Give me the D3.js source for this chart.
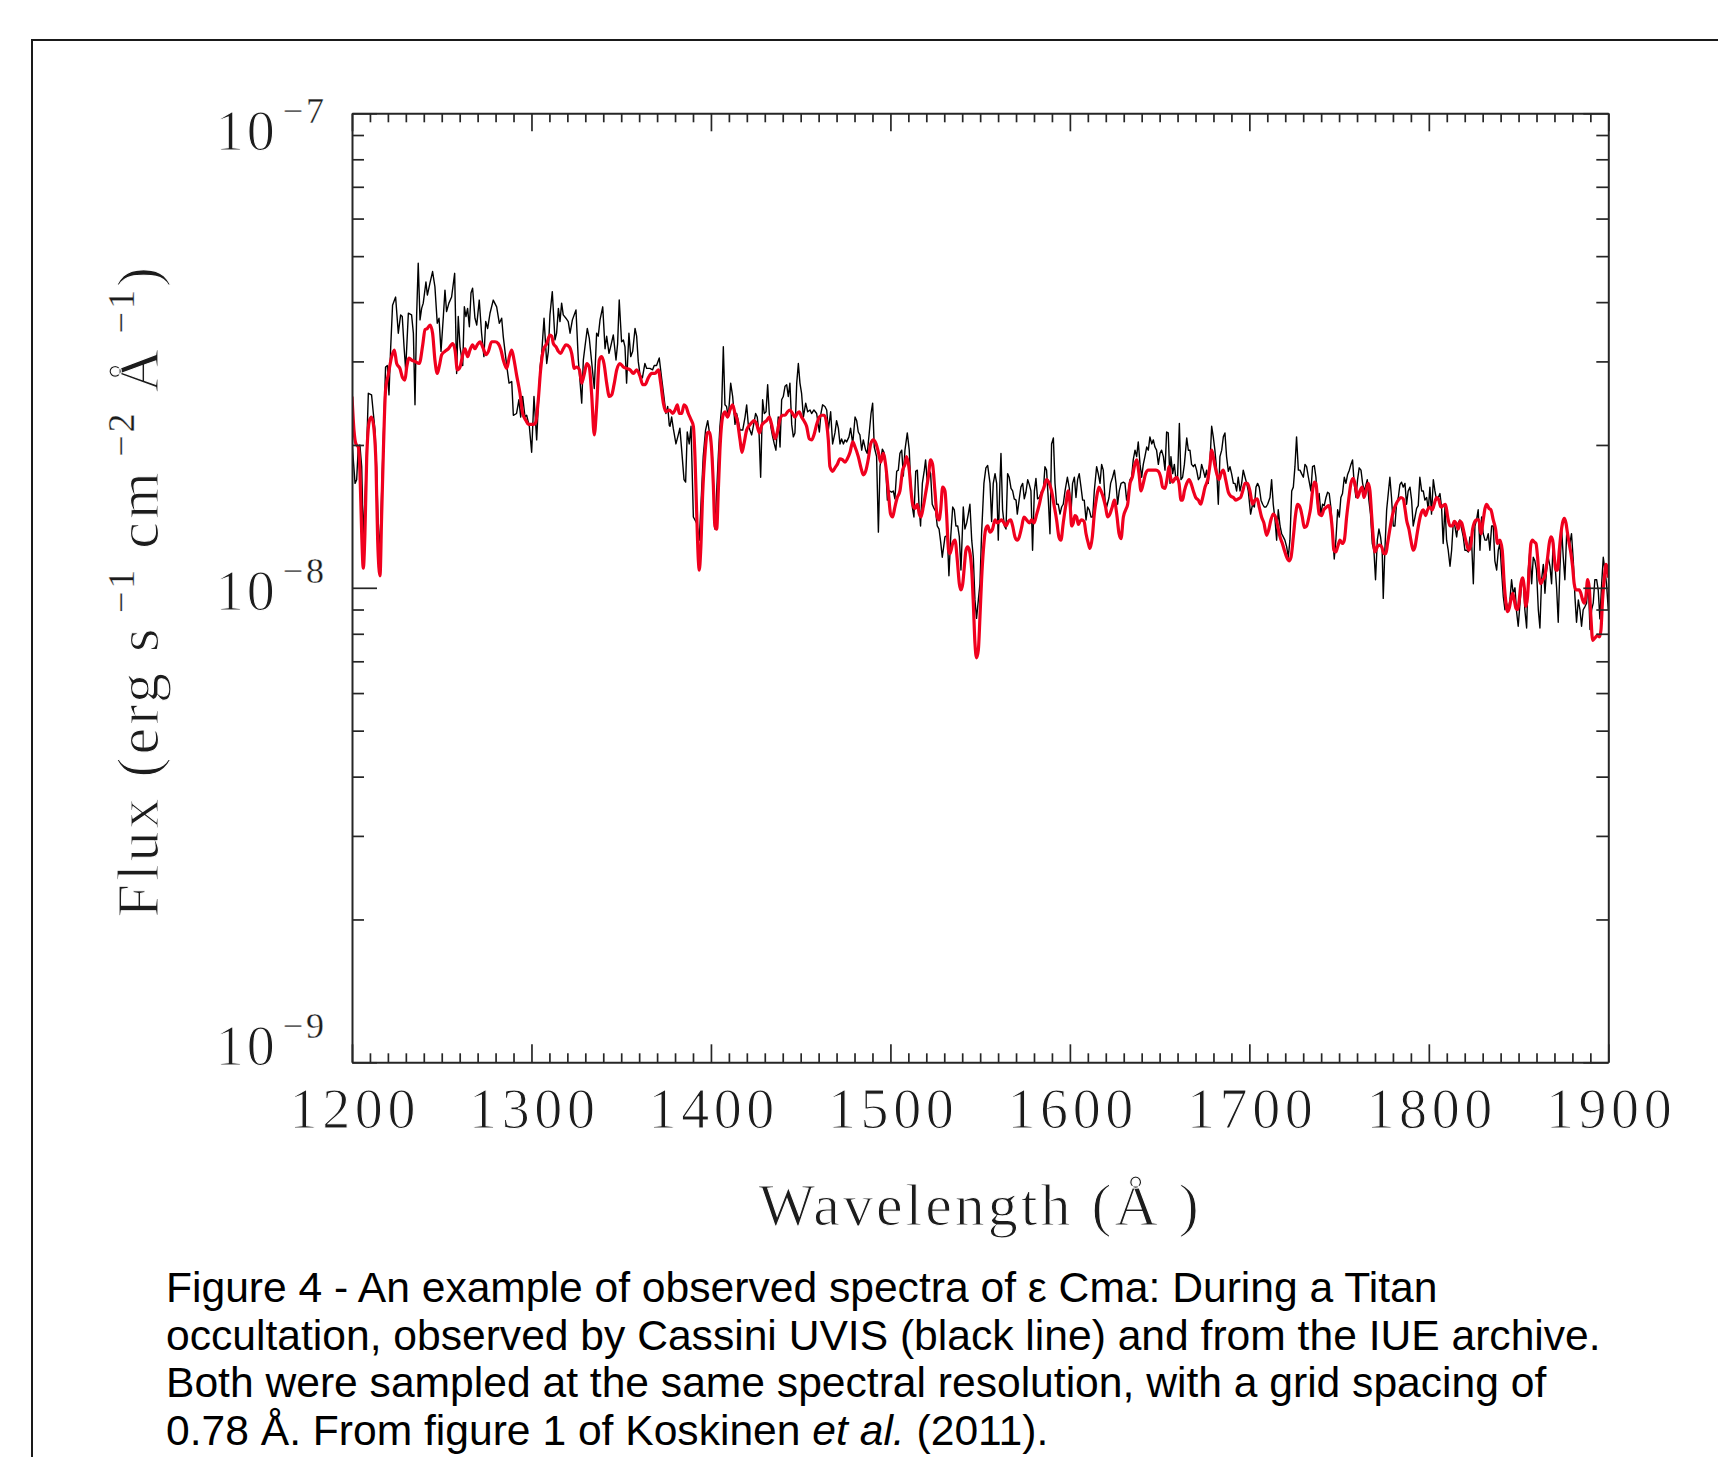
<!DOCTYPE html>
<html>
<head>
<meta charset="utf-8">
<script src="https://cdn.jsdelivr.net/npm/d3@7"></script>
<style>
  html, body { margin: 0; padding: 0; background: #fff; }
  svg { display: block; }
  .thin { stroke: #fff; stroke-width: 1.1px; }
  .thin .sup { stroke-width: 0.3px; }
</style>
</head>
<body>
<svg id="fig" width="1718" height="1457"></svg>
<script>
// Flux values below are in units of 1e-8 erg s^-1 cm^-2 Å^-1; wavelengths in Å.
const FLUX_UNIT = 1e-8;

// Cassini UVIS occultation spectrum of ε CMa: [wavelength, flux]
const cassini = [
  [1200.0,2.03],[1201.7,1.66],[1202.6,1.69],[1203.5,1.98],[1204.4,2.00],[1205.4,1.80],[1206.3,1.28],[1207.6,1.66],
  [1209.1,2.57],[1210.9,2.55],[1211.9,2.33],[1212.8,2.15],[1213.7,1.80],[1214.9,1.20],[1216.0,1.37],[1217.5,2.09],
  [1218.7,2.92],[1219.7,2.94],[1220.6,2.55],[1221.5,3.17],[1222.6,3.94],[1224.3,4.10],[1225.8,3.44],[1227.1,3.76],
  [1228.0,3.73],[1229.0,3.22],[1229.9,2.88],[1231.4,3.79],[1233.2,3.76],[1234.2,3.44],[1235.1,2.43],[1236.0,3.73],
  [1236.9,4.83],[1237.9,3.67],[1238.8,3.88],[1239.7,3.98],[1241.2,4.41],[1242.0,4.14],[1243.4,4.38],[1244.9,4.64],
  [1246.2,4.31],[1247.5,3.61],[1248.5,3.70],[1249.6,3.15],[1250.9,3.73],[1251.8,4.24],[1252.7,3.82],[1254.0,3.98],
  [1255.5,4.10],[1257.2,4.60],[1258.3,2.83],[1259.2,3.73],[1260.2,3.22],[1261.7,2.94],[1262.6,3.91],[1263.5,3.73],
  [1264.4,3.88],[1265.4,3.55],[1266.3,4.18],[1267.2,4.28],[1268.5,3.70],[1269.5,3.58],[1270.9,4.04],[1272.2,3.44],
  [1273.5,3.07],[1274.5,3.64],[1275.6,3.52],[1276.9,3.79],[1278.7,4.04],[1280.6,3.91],[1282.1,3.61],[1283.4,3.70],
  [1284.3,3.38],[1286.2,2.94],[1287.5,2.70],[1289.0,2.72],[1289.9,2.31],[1291.7,2.33],[1293.0,2.49],[1294.0,2.29],
  [1295.1,2.53],[1296.4,2.29],[1297.3,2.31],[1298.8,2.19],[1300.1,1.93],[1301.4,2.53],[1302.9,2.05],[1304.8,2.92],
  [1305.7,3.12],[1307.0,3.70],[1308.5,2.97],[1309.4,3.15],[1310.3,3.76],[1311.6,4.21],[1313.1,3.33],[1314.0,3.44],
  [1315.0,3.88],[1315.9,3.64],[1316.8,3.98],[1317.7,3.76],[1319.2,3.70],[1320.5,3.64],[1321.5,3.44],[1322.8,3.67],
  [1324.8,3.85],[1326.1,3.02],[1327.0,2.74],[1328.0,2.45],[1328.9,3.02],[1329.8,3.22],[1331.1,3.52],[1332.2,3.36],
  [1333.5,3.00],[1335.0,2.63],[1336.3,3.44],[1337.2,3.39],[1338.2,3.67],[1339.7,3.91],[1341.0,3.19],[1341.9,3.39],
  [1343.2,3.12],[1344.1,3.22],[1345.6,3.41],[1347.1,3.02],[1348.0,3.27],[1348.9,4.04],[1350.2,3.30],[1351.2,3.33],
  [1352.1,3.22],[1353.0,2.70],[1354.3,3.44],[1355.3,3.07],[1356.4,3.15],[1357.7,3.52],[1358.6,3.39],[1359.5,3.00],
  [1360.5,2.81],[1361.8,2.77],[1363.2,2.97],[1364.2,2.90],[1366.0,2.90],[1367.5,2.88],[1368.4,2.94],[1369.7,2.94],
  [1371.2,3.05],[1372.5,2.77],[1373.8,2.53],[1374.9,2.33],[1375.9,2.41],[1376.8,2.20],
  [1377.2,2.19],[1378.1,2.29],[1379.0,2.17],[1380.5,2.01],[1381.8,2.10],[1382.7,2.17],[1383.7,1.95],[1385.0,1.69],
  [1385.9,1.67],[1386.8,2.13],[1387.9,2.01],[1388.9,2.19],[1390.2,1.41],[1392.0,1.37],[1393.5,1.26],[1395.7,1.89],
  [1397.0,2.15],[1398.2,2.25],[1399.5,2.08],[1400.8,1.89],[1402.2,1.33],[1404.1,1.89],[1405.0,2.19],[1406.0,2.41],
  [1406.9,3.22],[1407.8,2.43],[1408.7,2.41],[1409.7,2.29],[1411.0,2.70],[1412.1,2.53],[1413.4,2.21],[1414.3,2.33],
  [1415.2,2.25],[1416.2,2.15],[1417.7,2.15],[1419.0,2.29],[1419.9,2.43],[1420.8,2.21],[1421.7,2.15],[1422.7,2.10],
  [1423.6,2.19],[1424.9,2.33],[1425.8,2.29],[1426.8,2.12],[1427.7,1.71],[1428.8,2.49],[1429.7,2.33],[1430.7,2.35],
  [1431.6,2.68],[1432.5,2.33],[1433.5,2.17],[1434.4,2.08],[1435.3,2.01],[1436.2,1.95],[1437.5,2.29],[1438.5,1.98],
  [1439.4,2.49],[1440.3,2.53],[1441.3,2.66],[1442.2,2.68],[1443.1,2.53],[1444.0,2.70],[1445.0,2.21],[1445.9,2.08],
  [1446.8,2.12],[1447.8,2.70],[1448.7,2.97],[1449.6,2.70],[1450.5,2.57],[1451.5,2.29],[1452.8,2.45],[1453.9,2.35],
  [1455.2,2.37],[1456.1,2.33],[1457.4,2.37],[1458.9,2.33],[1460.4,2.13],[1461.3,2.33],[1462.2,2.43],[1463.5,2.41],
  [1464.5,2.37],[1465.4,2.15],[1466.7,2.35],[1467.8,2.01],[1469.1,2.12],[1470.0,2.25],[1471.0,2.17],[1471.9,2.01],
  [1472.8,2.06],[1473.8,2.01],[1474.7,2.05],[1475.6,2.03],[1476.9,2.08],[1477.8,2.17],[1479.0,2.01],[1480.3,2.29],
  [1481.2,2.25],[1482.1,2.13],[1483.0,2.10],[1484.0,1.95],[1484.9,2.05],[1486.2,1.95],[1487.1,1.92],[1488.2,2.12],
  [1489.2,2.33],[1490.1,2.45],[1491.0,1.98],[1492.3,1.89],[1493.3,1.31],[1494.2,1.80],[1495.5,1.96],[1496.4,1.93],
  [1497.3,1.82],[1498.3,1.53],[1499.4,1.60],[1500.7,1.59],[1501.6,1.60],[1502.5,1.54],[1503.5,1.76],[1504.4,1.77],
  [1505.3,1.92],[1506.3,1.95],[1507.2,1.72],[1508.1,1.95],[1509.4,2.12],[1510.5,1.95],[1511.3,1.66],[1512.2,1.48],
  [1513.1,1.41],[1514.1,1.76],[1515.0,1.77],[1515.9,1.50],[1516.8,1.35],[1517.8,1.66],[1518.9,1.77],[1519.6,1.86],
  [1520.6,1.66],[1521.5,1.77],[1522.4,1.74],[1523.3,1.50],[1524.3,1.47],[1525.2,1.45],[1526.1,1.35],[1527.1,1.33],
  [1528.0,1.25],[1528.9,1.16],[1530.4,1.28],[1531.7,1.29],[1532.6,1.06],[1533.6,1.28],[1534.7,1.48],[1535.6,1.46],
  [1536.5,1.35],[1537.5,1.35],[1538.4,1.28],[1539.3,1.09],[1540.6,1.48],[1541.5,1.33],[1542.5,1.37],[1543.4,1.43],
  [1544.3,1.50],[1545.3,1.26],[1546.2,1.16],[1547.1,0.943],[1548.0,0.862],[1549.0,0.943],[1549.9,1.02],[1550.8,1.30],
  [1552.1,1.66],[1553.2,1.79],[1554.2,1.81],[1555.5,1.66],
  [1556.4,1.38],[1557.3,1.66],[1558.3,1.74],[1559.2,1.66],[1560.1,1.26],[1561.0,1.66],[1561.6,1.92],[1562.5,1.46],
  [1563.5,1.35],[1564.4,1.33],[1565.3,1.74],[1566.2,1.71],[1567.2,1.62],[1568.1,1.60],[1569.0,1.54],[1570.0,1.53],
  [1570.7,1.43],[1571.8,1.54],[1572.7,1.63],[1573.7,1.66],[1574.6,1.54],[1575.5,1.59],[1576.5,1.69],[1577.4,1.65],
  [1578.3,1.60],[1579.2,1.20],[1580.2,1.60],[1581.1,1.70],[1582.0,1.54],[1583.0,1.55],[1584.3,1.60],[1585.2,1.60],
  [1586.1,1.80],[1587.0,1.77],[1588.0,1.53],[1588.9,1.30],[1589.8,2.01],[1590.8,2.07],[1591.7,1.66],[1592.6,1.50],
  [1593.5,1.50],[1594.5,1.43],[1595.4,1.48],[1596.3,1.50],[1597.3,1.60],[1598.6,1.71],[1599.7,1.62],[1600.6,1.43],
  [1601.5,1.66],[1602.5,1.71],[1603.4,1.55],[1604.3,1.69],[1605.2,1.74],[1606.2,1.63],[1607.1,1.53],[1608.0,1.53],
  [1609.0,1.39],[1609.9,1.48],[1610.8,1.46],[1611.8,1.41],[1612.7,1.41],[1613.6,1.60],[1614.9,1.80],[1615.8,1.74],
  [1616.8,1.66],[1617.7,1.82],[1618.6,1.77],[1619.6,1.53],[1620.5,1.48],[1621.8,1.55],[1622.7,1.66],[1623.8,1.71],
  [1624.8,1.77],[1625.7,1.66],[1626.6,1.50],[1627.5,1.60],[1628.5,1.66],[1629.8,1.67],[1630.7,1.66],[1631.6,1.53],
  [1632.6,1.60],[1633.5,1.69],[1634.4,1.71],[1635.3,1.86],[1636.3,1.95],[1637.2,1.89],[1638.1,2.03],[1639.1,1.82],
  [1640.0,1.71],[1640.9,1.82],[1641.8,1.89],[1642.8,1.98],[1643.7,1.95],[1644.6,2.08],[1645.6,2.01],[1646.5,2.05],
  [1647.4,1.98],[1648.3,1.95],[1649.3,1.82],[1650.2,1.92],[1651.1,1.95],[1652.1,1.89],[1653.0,1.77],[1653.9,2.13],
  [1654.8,2.12],[1655.8,1.66],[1656.3,1.89],[1657.3,1.74],[1658.2,1.82],[1659.1,1.69],[1660.0,1.71],[1661.0,2.22],
  [1661.9,1.69],[1662.8,1.71],[1663.8,1.82],[1665.1,2.07],[1666.0,1.95],[1666.9,1.95],[1667.8,1.82],[1668.8,1.80],
  [1669.7,1.82],[1670.6,1.77],[1671.6,1.69],[1672.5,1.71],[1673.4,1.82],[1674.3,1.77],[1675.3,1.71],[1676.2,1.77],
  [1677.1,1.66],[1678.1,1.86],[1679.0,2.19],[1679.9,2.08],[1680.8,1.95],[1681.8,1.77],[1682.7,1.50],[1683.6,1.89],
  [1684.6,1.95],[1685.5,2.08],[1686.4,2.12],[1687.3,1.89],[1688.3,1.76],[1689.2,1.80],[1690.1,1.74],[1691.1,1.66],
  [1692.0,1.66],[1692.9,1.60],[1693.8,1.71],[1694.8,1.60],[1695.7,1.66],[1696.6,1.77],[1697.6,1.71],[1698.5,1.66],
  [1699.4,1.60],[1700.7,1.43],[1701.8,1.50],[1702.8,1.48],[1703.7,1.63],[1704.6,1.66],[1705.5,1.63],[1706.5,1.53],
  [1707.4,1.50],[1708.3,1.48],[1709.3,1.48],[1710.2,1.50],[1711.5,1.55],[1712.4,1.69],[1713.3,1.50],[1714.3,1.39],
  [1715.2,1.26],[1716.1,1.46],[1717.1,1.35],[1718.0,1.30],[1718.9,1.28],[1719.8,1.26],[1720.8,1.22],[1721.7,1.16],
  [1722.6,1.26],[1723.6,1.60],[1724.5,1.63],[1725.4,1.80],[1726.3,2.08],[1727.3,1.77],[1728.2,1.77],[1729.1,1.74],
  [1730.1,1.71],[1731.0,1.82],[1731.9,1.80],[1732.9,1.71],
  [1734.3,1.60],[1735.2,1.80],[1736.2,1.81],[1737.1,1.71],[1738.0,1.50],[1738.9,1.58],[1739.9,1.43],[1740.8,1.50],
  [1741.7,1.49],[1742.7,1.55],[1743.6,1.59],[1744.5,1.58],[1745.4,1.48],[1746.4,1.30],[1747.3,1.15],[1748.2,1.26],
  [1749.2,1.46],[1750.1,1.41],[1751.0,1.55],[1751.9,1.58],[1752.9,1.71],[1753.8,1.66],[1754.7,1.73],[1755.7,1.77],
  [1756.6,1.82],[1757.5,1.86],[1758.4,1.66],[1759.4,1.55],[1760.3,1.69],[1761.2,1.79],[1762.2,1.77],[1763.1,1.66],
  [1764.0,1.60],[1765.0,1.65],[1765.7,1.69],[1766.6,1.53],[1767.5,1.43],[1768.5,1.24],[1769.4,1.20],[1770.3,1.04],
  [1771.3,1.26],[1772.2,1.33],[1773.1,1.28],[1774.0,1.20],[1774.6,0.950],[1775.5,1.20],[1776.5,1.46],[1777.4,1.58],
  [1778.3,1.71],[1779.2,1.55],[1780.2,1.35],[1781.1,1.35],[1782.0,1.50],[1783.0,1.55],[1783.9,1.65],[1784.8,1.67],
  [1785.7,1.63],[1786.7,1.66],[1787.6,1.50],[1788.5,1.60],[1789.5,1.63],[1790.4,1.53],[1791.3,1.35],[1792.3,1.41],
  [1793.2,1.47],[1794.1,1.49],[1795.0,1.71],[1796.0,1.60],[1796.9,1.60],[1797.8,1.53],[1798.8,1.55],[1799.7,1.46],
  [1800.6,1.63],[1801.5,1.43],[1802.5,1.69],[1803.4,1.60],[1804.3,1.53],[1805.3,1.55],[1806.2,1.58],[1807.1,1.48],
  [1808.0,1.24],[1809.0,1.48],[1809.9,1.26],[1810.8,1.20],[1811.8,1.11],[1812.7,1.20],[1813.6,1.37],[1814.5,1.35],
  [1815.5,1.28],[1816.4,1.37],[1817.3,1.39],[1818.3,1.33],[1819.2,1.28],[1820.1,1.20],[1821.0,1.20],[1822.0,1.19],
  [1822.9,1.28],[1823.8,1.26],[1824.8,1.02],[1825.7,1.35],[1826.6,1.39],[1827.5,1.46],[1828.5,1.20],[1829.4,1.41],
  [1830.3,1.30],[1831.3,1.26],[1832.2,1.26],[1833.1,1.30],[1834.0,1.20],[1835.0,1.35],[1835.9,1.35],[1836.8,1.14],
  [1837.8,1.09],[1838.7,1.20],[1839.6,1.24],[1840.5,1.09],[1841.5,0.958],[1842.4,0.899],[1843.3,0.928],[1844.3,0.899],
  [1845.2,0.943],[1846.1,1.04],[1847.0,0.974],[1848.0,1.00],[1848.9,0.890],[1849.8,0.830],[1850.8,0.928],[1851.7,1.02],
  [1852.6,1.04],[1853.5,0.899],[1854.5,0.823],[1855.4,1.09],[1856.3,1.20],[1857.3,1.02],[1858.2,1.16],[1859.1,1.14],
  [1860.0,1.09],[1861.0,0.899],[1861.9,0.823],[1862.8,1.04],[1863.8,1.12],[1864.7,0.974],[1865.6,1.09],[1866.5,1.16],
  [1867.5,1.11],[1868.4,1.02],[1869.3,1.26],[1870.3,1.12],[1871.2,1.00],[1872.1,0.846],[1873.0,1.09],[1874.0,1.33],
  [1874.9,1.16],[1875.8,1.04],[1876.8,1.30],[1877.7,1.26],[1878.6,1.24],[1879.5,1.30],[1880.5,1.14],[1881.4,0.958],
  [1882.3,0.846],[1883.3,0.943],[1884.2,0.899],[1885.1,0.830],[1886.0,0.899],[1887.0,0.913],[1887.9,0.928],[1888.8,1.04],
  [1889.8,0.817],[1890.7,0.899],[1891.6,0.928],[1892.5,1.04],[1893.5,1.04],[1894.4,0.988],[1895.3,0.860],[1896.3,1.02],
  [1897.2,1.16],[1898.1,1.09],[1899.0,1.02],[1900.0,0.899]
];

// IUE archive spectrum of ε CMa at the same resolution: [wavelength, flux]
const iue = [
  [1200.0,2.53],[1201.1,2.15],[1202.2,2.01],[1203.5,1.98],[1204.4,1.77],[1205.4,1.30],[1206.3,1.10],[1207.2,1.30],
  [1208.2,1.88],[1209.7,2.25],[1210.9,2.29],[1212.3,2.15],[1213.4,1.80],[1214.3,1.26],[1215.6,1.06],[1216.5,1.41],
  [1217.5,1.95],[1218.7,2.61],[1220.2,2.81],[1222.1,3.07],[1223.6,3.17],[1224.9,2.97],[1226.7,2.90],[1228.2,2.77],
  [1229.5,2.74],[1230.5,2.92],[1231.8,3.05],[1233.2,3.02],[1235.1,3.00],[1237.5,2.97],[1239.4,3.25],[1240.7,3.50],
  [1242.0,3.52],[1243.5,3.58],[1244.9,3.44],[1246.2,3.02],[1247.5,2.83],[1248.7,2.94],[1250.0,3.10],[1251.8,3.15],
  [1253.7,3.19],[1256.1,3.27],[1257.4,3.17],[1258.7,2.88],[1260.2,2.92],[1261.7,3.10],[1263.0,3.19],[1264.4,3.07],
  [1265.7,3.17],[1267.2,3.25],[1268.5,3.19],[1269.8,3.25],[1271.3,3.30],[1273.2,3.19],[1274.7,3.10],[1276.0,3.15],
  [1277.8,3.30],[1279.7,3.30],[1281.5,3.27],[1283.0,3.17],[1284.3,3.02],[1286.2,2.90],[1287.7,3.07],[1289.0,3.17],
  [1290.3,3.02],[1291.7,2.81],[1293.6,2.57],[1295.1,2.33],[1297.0,2.25],[1298.3,2.21],[1299.6,2.21],[1301.0,2.21],
  [1302.3,2.23],[1303.8,2.49],[1305.1,2.88],[1306.6,3.17],[1308.5,3.27],[1310.3,3.41],[1311.3,3.39],[1312.2,3.27],
  [1313.7,3.22],[1315.0,3.15],[1316.3,3.12],[1317.7,3.19],[1319.2,3.25],[1321.1,3.22],[1322.4,3.12],[1323.9,2.90],
  [1325.2,2.92],[1326.7,2.88],[1328.0,2.70],[1329.5,2.83],[1330.8,2.97],[1332.2,2.92],[1333.5,2.57],[1335.0,2.10],
  [1336.3,2.41],[1337.8,3.02],[1339.1,3.07],[1340.4,2.97],[1341.9,2.70],[1343.4,2.53],[1344.7,2.55],[1346.0,2.68],
  [1347.5,2.88],[1349.3,2.97],[1351.2,2.92],[1353.0,2.90],[1354.9,2.88],[1356.8,2.83],[1358.6,2.88],[1360.5,2.79],
  [1362.0,2.68],[1363.3,2.68],[1365.1,2.77],[1367.0,2.83],[1368.8,2.83],[1370.7,2.88],[1372.0,2.70],[1373.5,2.45],
  [1374.9,2.35],[1376.8,2.37],
  [1378.7,2.33],[1380.0,2.37],[1381.3,2.43],[1382.4,2.33],[1383.7,2.33],[1385.0,2.43],[1386.1,2.41],[1387.4,2.33],
  [1388.7,2.27],[1390.2,2.19],[1391.1,1.89],[1392.0,1.46],[1393.0,1.14],[1393.5,1.09],[1394.3,1.20],[1395.4,1.58],
  [1396.7,1.92],[1398.0,2.12],[1399.1,2.13],[1400.4,1.95],[1401.3,1.66],[1402.2,1.35],[1403.2,1.33],[1404.1,1.60],
  [1405.0,1.95],[1406.5,2.29],[1407.8,2.35],[1409.3,2.29],[1410.6,2.37],[1412.1,2.43],[1413.4,2.33],[1414.7,2.25],
  [1416.2,2.05],[1417.3,1.93],[1418.4,2.01],[1419.9,2.15],[1421.4,2.20],[1422.7,2.23],[1424.0,2.25],[1425.5,2.21],
  [1427.0,2.12],[1428.3,2.20],[1429.6,2.23],[1431.0,2.25],[1432.5,2.29],[1433.8,2.21],[1435.7,2.06],[1437.0,2.13],
  [1438.5,2.27],[1440.0,2.31],[1441.3,2.31],[1442.7,2.35],[1444.0,2.37],[1445.5,2.33],[1446.8,2.29],[1448.1,2.33],
  [1449.2,2.35],[1450.5,2.29],[1451.8,2.25],[1453.3,2.19],[1454.8,2.06],[1456.1,2.05],[1457.4,2.10],[1458.9,2.21],
  [1460.4,2.29],[1461.7,2.31],[1463.2,2.31],[1464.5,2.21],[1465.4,2.05],[1466.3,1.80],[1467.8,1.76],[1469.1,1.79],
  [1470.4,1.82],[1471.9,1.87],[1473.4,1.86],[1474.7,1.84],[1476.0,1.87],[1477.5,1.93],[1479.0,2.03],[1480.3,1.98],
  [1482.1,1.89],[1483.6,1.79],[1484.9,1.73],[1486.2,1.76],[1487.7,1.87],[1489.0,2.01],[1490.5,2.05],[1492.0,2.01],
  [1493.3,1.93],[1494.6,1.84],[1496.0,1.92],[1497.3,1.82],[1498.8,1.60],[1500.1,1.43],[1501.2,1.41],[1502.5,1.48],
  [1503.8,1.55],[1505.3,1.60],[1506.8,1.77],[1508.1,1.82],[1509.0,1.89],[1510.5,1.77],[1511.5,1.60],[1512.4,1.50],
  [1513.7,1.47],[1515.0,1.50],[1516.1,1.43],[1517.0,1.41],[1518.3,1.48],[1519.6,1.58],[1521.1,1.71],[1522.4,1.86],
  [1523.5,1.82],[1524.8,1.60],[1526.1,1.41],[1527.1,1.39],[1528.0,1.46],[1529.1,1.63],[1530.4,1.60],[1531.3,1.43],
  [1532.4,1.20],[1533.2,1.18],[1534.7,1.24],[1536.0,1.26],[1537.3,1.14],[1538.4,1.02],[1539.3,0.99],[1540.3,1.02],
  [1541.2,1.11],[1542.1,1.20],[1543.0,1.22],[1544.0,1.20],[1545.3,1.09],[1546.2,0.928],[1547.1,0.765],[1548.0,0.712],
  [1549.0,0.740],[1549.9,0.869],[1550.8,1.04],[1551.8,1.20],[1553.1,1.33],[1554.2,1.35],[1555.5,1.31],
  [1556.9,1.33],[1558.3,1.39],[1559.6,1.37],[1560.7,1.38],[1562.0,1.39],[1563.3,1.37],[1564.4,1.35],[1565.7,1.38],
  [1567.0,1.39],[1568.1,1.35],[1569.4,1.28],[1570.7,1.26],[1571.8,1.28],[1573.1,1.34],[1574.4,1.41],[1575.9,1.39],
  [1577.4,1.37],[1578.7,1.39],[1580.0,1.37],[1581.5,1.43],[1583.0,1.50],[1584.3,1.58],[1585.6,1.63],[1587.0,1.69],
  [1588.5,1.66],[1589.8,1.60],[1591.1,1.50],[1592.6,1.39],[1593.9,1.28],[1595.0,1.26],[1596.3,1.37],[1597.8,1.50],
  [1599.1,1.60],[1600.1,1.50],[1601.0,1.35],[1601.9,1.37],[1602.8,1.42],[1603.8,1.41],[1604.7,1.36],[1605.6,1.38],
  [1606.5,1.39],[1607.9,1.38],[1609.0,1.30],[1610.3,1.24],[1611.2,1.21],[1612.5,1.28],[1613.6,1.43],[1614.9,1.55],
  [1616.2,1.63],[1617.3,1.60],[1618.6,1.55],[1619.9,1.48],[1621.0,1.41],[1622.3,1.43],[1623.6,1.48],[1624.8,1.53],
  [1626.1,1.43],[1627.4,1.30],[1628.5,1.27],[1629.8,1.41],[1631.1,1.46],[1632.2,1.50],[1633.5,1.66],[1634.8,1.71],
  [1635.9,1.80],[1637.2,1.86],[1638.5,1.74],[1639.6,1.60],[1640.9,1.66],[1642.2,1.74],[1643.7,1.77],[1645.2,1.77],
  [1646.5,1.77],[1648.0,1.77],[1649.3,1.76],[1650.6,1.71],[1651.7,1.63],[1653.0,1.62],[1654.3,1.71],[1655.2,1.80],
  [1656.1,1.71],[1657.3,1.67],[1658.6,1.70],[1659.5,1.71],[1660.8,1.66],[1661.9,1.53],[1662.8,1.53],[1663.8,1.60],
  [1665.1,1.66],[1666.4,1.69],[1667.5,1.66],[1668.8,1.60],[1670.1,1.55],[1671.6,1.53],[1672.9,1.50],[1674.0,1.55],
  [1675.3,1.63],[1676.8,1.69],[1678.1,1.82],[1679.0,1.95],[1679.9,1.89],[1680.8,1.81],[1681.8,1.74],[1683.1,1.69],
  [1684.2,1.74],[1685.5,1.77],[1686.8,1.69],[1688.3,1.59],[1689.6,1.56],[1691.1,1.55],[1692.4,1.53],[1693.8,1.54],
  [1695.1,1.55],[1696.3,1.60],[1697.6,1.66],[1699.0,1.66],[1700.3,1.60],[1701.8,1.50],[1703.1,1.53],[1704.4,1.54],
  [1705.5,1.48],[1706.8,1.41],[1708.1,1.37],[1709.6,1.29],[1710.9,1.33],[1712.0,1.39],[1713.3,1.43],[1714.6,1.41],
  [1715.8,1.35],[1717.1,1.28],[1718.4,1.24],[1719.5,1.20],[1720.8,1.16],[1722.1,1.14],[1723.2,1.16],[1724.5,1.28],
  [1725.8,1.43],[1726.9,1.50],[1728.2,1.48],[1729.5,1.41],[1730.6,1.34],[1731.9,1.35],[1733.2,1.41],
  [1734.1,1.47],[1735.2,1.60],[1736.2,1.67],[1737.1,1.66],[1738.0,1.53],[1738.9,1.43],[1740.2,1.42],[1741.5,1.46],
  [1743.0,1.48],[1744.3,1.49],[1745.3,1.43],[1746.2,1.33],[1747.1,1.20],[1748.2,1.19],[1749.2,1.22],[1750.5,1.26],
  [1751.8,1.24],[1752.9,1.26],[1754.2,1.41],[1755.5,1.55],[1756.6,1.66],[1757.9,1.70],[1759.2,1.63],[1760.3,1.55],
  [1761.6,1.60],[1762.9,1.63],[1763.8,1.55],[1765.0,1.60],[1766.2,1.66],[1767.2,1.60],[1768.1,1.43],[1769.0,1.28],
  [1770.0,1.19],[1771.3,1.22],[1772.4,1.23],[1773.7,1.22],[1775.0,1.18],[1776.1,1.18],[1777.0,1.24],[1778.3,1.33],
  [1779.2,1.39],[1780.5,1.46],[1781.7,1.50],[1783.0,1.53],[1784.4,1.55],[1785.7,1.54],[1786.7,1.47],[1787.6,1.39],
  [1788.9,1.33],[1790.0,1.26],[1791.3,1.20],[1792.3,1.22],[1793.2,1.28],[1794.5,1.37],[1795.6,1.43],[1796.9,1.46],
  [1798.2,1.42],[1799.3,1.46],[1800.6,1.48],[1801.9,1.46],[1803.0,1.50],[1804.3,1.55],[1805.6,1.53],[1806.7,1.48],
  [1808.0,1.49],[1809.3,1.50],[1810.5,1.41],[1811.8,1.35],[1813.1,1.35],[1814.2,1.38],[1815.5,1.36],[1816.4,1.33],
  [1817.3,1.38],[1818.3,1.37],[1819.2,1.33],[1820.1,1.28],[1821.0,1.24],[1822.3,1.20],[1823.5,1.24],[1824.4,1.33],
  [1825.3,1.37],[1826.6,1.39],[1827.9,1.39],[1829.0,1.30],[1830.3,1.39],[1831.3,1.47],[1832.2,1.50],[1833.5,1.47],
  [1834.6,1.46],[1835.9,1.39],[1837.2,1.33],[1838.3,1.24],[1839.6,1.26],[1840.9,1.20],[1842.0,1.02],[1843.0,0.928],
  [1843.9,0.891],[1844.8,0.906],[1845.7,0.943],[1846.7,0.974],[1847.6,0.943],[1848.5,0.906],[1849.5,0.899],[1850.4,0.943],
  [1851.3,1.02],[1852.2,1.05],[1853.2,1.00],[1854.1,0.913],[1855.0,0.958],[1856.0,1.11],[1856.9,1.24],[1857.8,1.26],
  [1858.7,1.25],[1859.7,1.24],[1860.6,1.16],[1861.5,1.05],[1862.5,1.02],[1863.4,1.04],[1864.3,1.05],[1865.2,1.09],
  [1866.2,1.16],[1867.1,1.24],[1868.0,1.28],[1869.0,1.26],[1869.9,1.16],[1870.8,1.09],[1871.7,1.09],[1872.7,1.20],
  [1873.6,1.30],[1874.5,1.37],[1875.5,1.40],[1876.4,1.37],[1877.3,1.30],[1878.2,1.24],[1879.2,1.18],[1880.1,1.11],
  [1881.0,1.02],[1882.0,0.99],[1882.9,0.99],[1883.8,0.99],[1884.7,0.974],[1885.7,0.943],[1886.6,0.928],[1887.5,0.958],
  [1888.5,1.04],[1889.4,1.00],[1890.3,0.869],[1891.3,0.775],[1892.2,0.781],[1893.1,0.788],[1894.0,0.795],[1895.0,0.788],
  [1895.9,0.815],[1896.8,0.943],[1897.8,1.05],[1898.7,1.12],[1899.6,1.09],[1900.0,1.05]
];

// Axis ticks
const xMajorTicks = [1200, 1300, 1400, 1500, 1600, 1700, 1800, 1900];
const xMinorStep = 10;
const yDecades = [-9, -8, -7];
const yMinorMantissas = [2, 3, 4, 5, 6, 7, 8, 9];

const xTitle = "Wavelength (Å )";
const captionLines = [
  [{ t: "Figure 4 - An example of observed spectra of ε Cma: During a Titan" }],
  [{ t: "occultation, observed by Cassini UVIS (black line) and from the IUE archive." }],
  [{ t: "Both were sampled at the same spectral resolution, with a grid spacing of" }],
  [{ t: "0.78 Å. From figure 1 of Koskinen " }, { t: "et al.", italic: true }, { t: " (2011)." }]
];

// ---------------------------------------------------------------------------
const svg = d3.select("#fig");
const plot = { left: 352, right: 1608.3, top: 113.3, bottom: 1062.3 };
const axisColor = "#262626";
const textColor = "#1c1c1c";
const serif = "'Liberation Serif', 'Times New Roman', serif";

const x = d3.scaleLinear().domain([1200, 1900]).range([plot.left, plot.right]);
const y = d3.scaleLog().domain([1e-9, 1e-7]).range([plot.bottom, plot.top]);

// Page frame
svg.append("path")
  .attr("d", `M32,1457 V40 H1718`)
  .attr("fill", "none")
  .attr("stroke", "#1a1a1a")
  .attr("stroke-width", 2);

// Spectra
svg.append("clipPath").attr("id", "plot-clip")
  .append("rect")
  .attr("x", plot.left).attr("y", plot.top)
  .attr("width", plot.right - plot.left).attr("height", plot.bottom - plot.top);

const lineGen = d3.line()
  .x(d => x(d[0]))
  .y(d => y(d[1] * FLUX_UNIT));

svg.append("path")
  .datum(cassini)
  .attr("clip-path", "url(#plot-clip)")
  .attr("fill", "none")
  .attr("stroke", "#000")
  .attr("stroke-width", 1.4)
  .attr("stroke-linejoin", "round")
  .attr("d", lineGen.curve(d3.curveLinear));

svg.append("path")
  .datum(iue)
  .attr("clip-path", "url(#plot-clip)")
  .attr("fill", "none")
  .attr("stroke", "#f0001e")
  .attr("stroke-width", 3.2)
  .attr("stroke-linejoin", "round")
  .attr("d", lineGen.curve(d3.curveMonotoneX));

// Axes: ticks point into the plot on all four sides
function styleAxis(g, keepDomain) {
  if (keepDomain) {
    g.select(".domain").attr("stroke", axisColor).attr("stroke-width", 2);
  } else {
    g.select(".domain").remove();
  }
  g.selectAll(".tick line").attr("stroke", axisColor).attr("stroke-width", 1.7);
  return g;
}

const xMinorTicks = d3.range(1200, 1901, xMinorStep).filter(v => v % 100 !== 0);
const yMajorTicks = yDecades.map(e => Math.pow(10, e));
const yMinorTicks = yDecades.slice(0, -1)
  .flatMap(e => yMinorMantissas.map(m => m * Math.pow(10, e)));

// bottom
styleAxis(svg.append("g").attr("transform", `translate(0,${plot.bottom})`)
  .call(d3.axisBottom(x).tickValues(xMinorTicks).tickSizeInner(-9).tickSizeOuter(0).tickFormat("")), false);
const gxb = styleAxis(svg.append("g").attr("transform", `translate(0,${plot.bottom})`)
  .call(d3.axisBottom(x).tickValues(xMajorTicks).tickSizeInner(-18).tickSizeOuter(0)
    .tickPadding(26).tickFormat(d3.format("d"))), true);
gxb.selectAll(".tick text")
  .attr("class", "thin")
  .attr("font-family", serif)
  .attr("font-size", 56)
  .attr("letter-spacing", 4.6)
  .attr("dx", 2.3)
  .attr("fill", textColor);

// top
styleAxis(svg.append("g").attr("transform", `translate(0,${plot.top})`)
  .call(d3.axisTop(x).tickValues(xMinorTicks).tickSizeInner(-9).tickSizeOuter(0).tickFormat("")), false);
styleAxis(svg.append("g").attr("transform", `translate(0,${plot.top})`)
  .call(d3.axisTop(x).tickValues(xMajorTicks).tickSizeInner(-18).tickSizeOuter(0).tickFormat("")), true);

// left
styleAxis(svg.append("g").attr("transform", `translate(${plot.left},0)`)
  .call(d3.axisLeft(y).tickValues(yMinorTicks).tickSizeInner(-12).tickSizeOuter(0).tickFormat("")), false);
styleAxis(svg.append("g").attr("transform", `translate(${plot.left},0)`)
  .call(d3.axisLeft(y).tickValues(yMajorTicks).tickSizeInner(-25).tickSizeOuter(0).tickFormat("")), true);

// right
styleAxis(svg.append("g").attr("transform", `translate(${plot.right},0)`)
  .call(d3.axisRight(y).tickValues(yMinorTicks).tickSizeInner(-12).tickSizeOuter(0).tickFormat("")), false);
styleAxis(svg.append("g").attr("transform", `translate(${plot.right},0)`)
  .call(d3.axisRight(y).tickValues(yMajorTicks).tickSizeInner(-25).tickSizeOuter(0).tickFormat("")), true);

// Decade labels 10^n on the left, kept inside the vertical extent of the frame
yDecades.forEach(e => {
  const yy = y(Math.pow(10, e));
  const base = Math.min(Math.max(yy + 22, plot.top + 37), plot.bottom + 3);
  const t = svg.append("text")
    .attr("class", "thin")
    .attr("x", plot.left - 25)
    .attr("y", base)
    .attr("text-anchor", "end")
    .attr("font-family", serif)
    .attr("font-size", 56)
    .attr("letter-spacing", 3)
    .attr("fill", textColor);
  t.append("tspan").text("10");
  t.append("tspan")
    .attr("class", "sup")
    .attr("dx", 5)
    .attr("dy", -27)
    .attr("font-size", 36)
    .text("\u2212" + Math.abs(e));
});

// Axis titles
svg.append("text")
  .attr("class", "thin")
  .attr("x", (plot.left + plot.right) / 2)
  .attr("y", 1225)
  .attr("text-anchor", "middle")
  .attr("font-family", serif)
  .attr("font-size", 60)
  .attr("letter-spacing", 3)
  .attr("fill", textColor)
  .text(xTitle);

const yt = svg.append("text")
  .attr("class", "thin")
  .attr("transform", `translate(158,${(plot.top + plot.bottom) / 2 + 3}) rotate(-90)`)
  .attr("text-anchor", "middle")
  .attr("font-family", serif)
  .attr("font-size", 60)
  .attr("letter-spacing", 3)
  .attr("fill", textColor);
const yParts = [
  { t: "Flux (erg s" }, { t: " \u22121", sup: true },
  { t: " cm" }, { t: " \u22122", sup: true },
  { t: " Å" }, { t: " \u22121", sup: true },
  { t: ")" }
];
let raised = false;
yParts.forEach(p => {
  const s = yt.append("tspan").text(p.t);
  if (p.sup) s.attr("class", "sup").attr("font-size", 38);
  if (p.sup && !raised) { s.attr("dy", -24); raised = true; }
  else if (!p.sup && raised) { s.attr("dy", 24); raised = false; }
});

// Caption
const cap = svg.append("g")
  .attr("font-family", "'Liberation Sans', Arial, sans-serif")
  .attr("font-size", 42.6)
  .attr("fill", "#000");
captionLines.forEach((line, i) => {
  const t = cap.append("text").attr("x", 166).attr("y", 1302 + i * 47.5);
  line.forEach(seg => {
    const s = t.append("tspan").text(seg.t);
    if (seg.italic) s.attr("font-style", "italic");
  });
});
</script>
</body>
</html>
